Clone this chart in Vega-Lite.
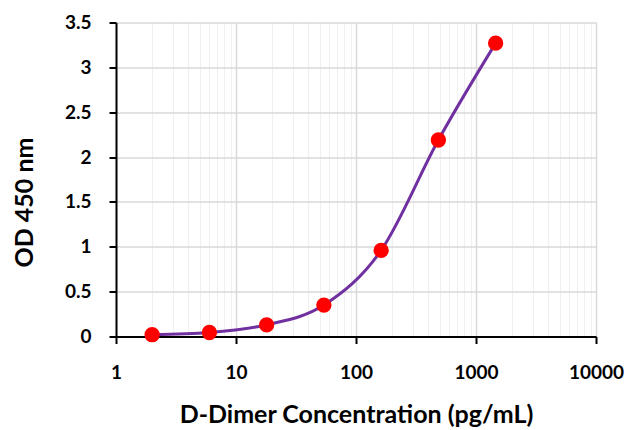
{
  "$schema": "https://vega.github.io/schema/vega-lite/v6.json",
  "description": "D-Dimer standard curve, OD 450 nm against concentration on a log axis",
  "autosize": "none",
  "width": 480,
  "height": 314,
  "padding": {"left": 116, "top": 22.5, "right": 35, "bottom": 93.5},
  "background": "white",
  "config": {
    "view": {"stroke": null},
    "font": "Lato",
    "axis": {
      "labelFont": "Lato",
      "labelFontWeight": "bold",
      "labelFontSize": 19,
      "labelColor": "#000000",
      "titleFont": "Lato",
      "titleFontWeight": "bold",
      "titleFontSize": 25,
      "titleColor": "#000000",
      "domainColor": "#000000",
      "domainWidth": 2,
      "tickColor": "#000000",
      "tickWidth": 2,
      "tickSize": 7
    }
  },
  "data": {
    "values": [
      {"conc": 2, "od": 0.02},
      {"conc": 6, "od": 0.045},
      {"conc": 18, "od": 0.13},
      {"conc": 54, "od": 0.35},
      {"conc": 162, "od": 0.96},
      {"conc": 486, "od": 2.19},
      {"conc": 1458, "od": 3.27}
    ]
  },
  "encoding": {
    "x": {
      "field": "conc",
      "type": "quantitative",
      "title": "D-Dimer Concentration (pg/mL)",
      "scale": {"type": "log", "domain": [1, 10000], "nice": false},
      "axis": {
        "values": [1, 2, 3, 4, 5, 6, 7, 8, 9, 10, 20, 30, 40, 50, 60, 70, 80, 90, 100, 200, 300, 400, 500, 600, 700, 800, 900, 1000, 2000, 3000, 4000, 5000, 6000, 7000, 8000, 9000, 10000],
        "labelExpr": "indexof([1, 10, 100, 1000, 10000], datum.value) >= 0 ? '' + datum.value : ''",
        "labelOverlap": false,
        "labelFlush": false,
        "labelPadding": 19.5,
        "titlePadding": 20,
        "grid": true,
        "gridColor": {"condition": {"test": "indexof([1, 10, 100, 1000, 10000], datum.value) >= 0", "value": "#d9d9d9"}, "value": "#f0f0f0"},
        "gridWidth": {"condition": {"test": "indexof([1, 10, 100, 1000, 10000], datum.value) >= 0", "value": 1.5}, "value": 1.2},
        "tickColor": {"condition": {"test": "indexof([1, 10, 100, 1000, 10000], datum.value) >= 0", "value": "#000000"}, "value": "transparent"}
      }
    },
    "y": {
      "field": "od",
      "type": "quantitative",
      "title": "OD 450 nm",
      "scale": {"domain": [0, 3.5], "nice": false, "zero": true},
      "axis": {
        "values": [0, 0.5, 1, 1.5, 2, 2.5, 3, 3.5],
        "labelExpr": "'' + datum.value",
        "labelPadding": 18,
        "grid": true,
        "gridColor": "#d9d9d9",
        "gridWidth": 1.5,
        "titleBaseline": "alphabetic",
        "titleX": -84,
        "titleY": 179.5
      }
    }
  },
  "layer": [
    {
      "mark": {"type": "line", "color": "#7030a0", "strokeWidth": 3, "interpolate": "monotone"}
    },
    {
      "mark": {"type": "point", "filled": true, "color": "#ff0000", "opacity": 1, "size": 235}
    }
  ]
}
